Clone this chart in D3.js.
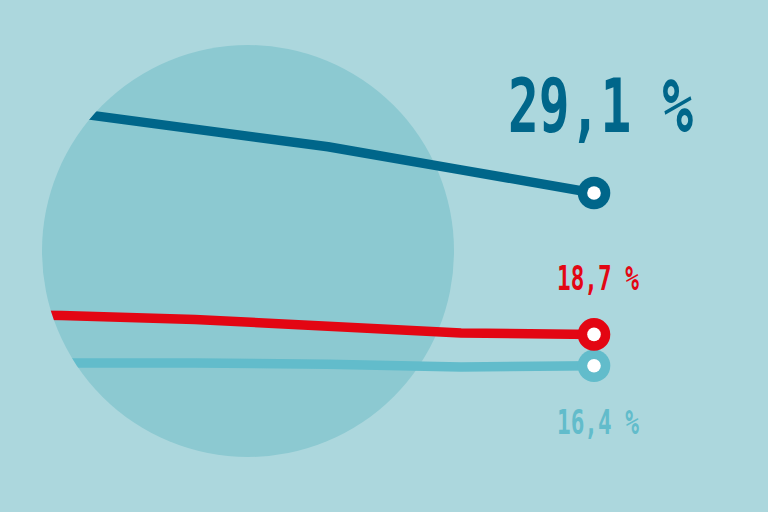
<!DOCTYPE html>
<html lang="de">
<head>
  <meta charset="utf-8">
  <title>Anteil</title>
  <script src="https://cdn.jsdelivr.net/npm/d3@7"></script>
  <style>
    body {
      margin: 0;
      background: #acd7dd;
    }

    svg {
      display: block;
    }

    .label {
      font-family: "DejaVu Sans Mono", "Liberation Mono", monospace;
      font-weight: bold;
    }
  </style>
</head>

<body>
  <div id="chart"></div>

  <script>
    // values
    var years = [2011, 2012, 2013, 2014, 2015, 2016];
    var darkBlueVals = [36.3, 35.1, 33.8, 32.5, 30.8, 29.1];
    var redVals = [20.2, 20.1, 19.8, 19.3, 18.8, 18.7];
    var lightBlueVals = [16.7, 16.6, 16.6, 16.5, 16.3, 16.4];

    var width = 768, height = 512;

    // drawing order: light blue below red
    var series = [
      { name: 'light', values: lightBlueVals, color: '#62bccb', size: 34, dy: 68, x0: 557, w: 82 },
      { name: 'dark', values: darkBlueVals, color: '#00668a', size: 74, dy: -61, x0: 508, w: 185 },
      { name: 'red', values: redVals, color: '#e30613', size: 34, dy: -44, x0: 557, w: 82 }
    ];

    var x = d3.scaleLinear()
      .domain([years[0], years[years.length - 1]])
      .range([-71, 594]);

    var y = d3.scaleLinear()
      .domain([16.4, 29.1])
      .range([365.7, 193]);

    var svg = d3.select('#chart')
      .append('svg')
      .attr('width', width)
      .attr('height', height)
      .style('background', '#acd7dd');

    var disc = { cx: 248, cy: 251, r: 206 };

    svg.append('circle')
      .attr('cx', disc.cx)
      .attr('cy', disc.cy)
      .attr('r', disc.r)
      .attr('fill', '#8cc9d1');

    // lines only show inside the disc and to the right of its centre
    var clip = svg.append('defs').append('clipPath').attr('id', 'clip');
    clip.append('circle')
      .attr('cx', disc.cx)
      .attr('cy', disc.cy)
      .attr('r', disc.r);
    clip.append('rect')
      .attr('x', disc.cx)
      .attr('y', 0)
      .attr('width', width - disc.cx)
      .attr('height', height);

    var line = d3.line()
      .x((d, i) => x(years[i]))
      .y(d => y(d));

    var fmt = v => d3.format('.1f')(v).replace('.', ',') + ' %';

    series.forEach(function (s) {
      svg.append('path')
        .attr('clip-path', 'url(#clip)')
        .attr('d', line(s.values))
        .attr('fill', 'none')
        .attr('stroke', s.color)
        .attr('stroke-width', 9.5)
        .attr('stroke-linejoin', 'round');
    });

    series.forEach(function (s) {
      var last = s.values[s.values.length - 1];
      var cx = x(years[years.length - 1]), cy = y(last);

      svg.append('circle')
        .attr('cx', cx)
        .attr('cy', cy)
        .attr('r', 16.3)
        .attr('fill', s.color);

      svg.append('circle')
        .attr('cx', cx)
        .attr('cy', cy)
        .attr('r', 6.8)
        .attr('fill', '#ffffff');

      // squeeze the mono face horizontally to the width in the picture
      var t = svg.append('text')
        .attr('class', 'label')
        .attr('x', 0)
        .attr('y', 0)
        .attr('fill', s.color)
        .style('font-size', s.size + 'px')
        .text(fmt(last));
      var natural = t.node().getComputedTextLength();
      t.attr('transform', 'translate(' + s.x0 + ',' + (cy + s.dy) + ') scale(' + (s.w / natural) + ',1)');
    });
  </script>
</body>

</html>
